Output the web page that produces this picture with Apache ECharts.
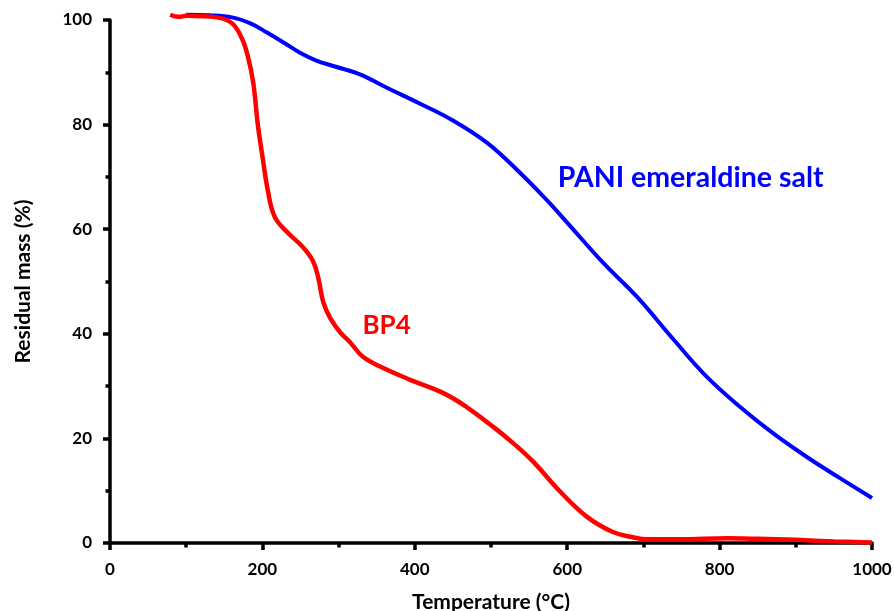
<!DOCTYPE html>
<html>
<head>
<meta charset="utf-8">
<script src="https://cdn.jsdelivr.net/npm/echarts@6/dist/echarts.min.js"></script>
<style>
    html, body { margin: 0; padding: 0; background: #fff; }
    #chart { width: 894px; height: 611px; }
</style>
</head>
<body>
<div id="chart"></div>
<script>
    // temperatures (°C) and residual mass (%)
    const paniTemp = [100, 130, 160, 185, 206, 230, 250, 270, 293, 328, 364, 407, 450, 495, 538, 573, 604, 647, 692, 739, 783, 827, 870, 915, 958, 1000]
    const paniMass = [101, 100.9, 100.5, 99.3, 97.6, 95.5, 93.7, 92.3, 91.2, 89.6, 87, 84, 80.8, 76.5, 70.8, 65.6, 60.6, 53.6, 47, 39, 31.8, 26, 21, 16.4, 12.4, 8.6]

    const bp4Temp = [79, 90, 100, 140, 160, 173, 181, 188, 194, 200, 207, 216, 232, 253, 266, 273, 280, 289, 302, 315, 332, 358, 394, 437, 468, 503, 529, 555, 591, 626, 660, 686, 705, 748, 810, 850, 900, 950, 1000]
    const bp4Mass = [101, 100.6, 100.8, 100.5, 99.4, 96.5, 93, 88, 80, 74, 67.5, 62.4, 59.5, 56.6, 54, 50.9, 46, 43, 40.3, 38.4, 35.6, 33.5, 31.2, 28.7, 26, 22.2, 19.1, 15.6, 9.8, 5.0, 2.1, 1.1, 0.7, 0.7, 0.9, 0.8, 0.6, 0.3, 0.1]

    const xTicks = { min: 0, max: 1000, step: 200 }
    const yTicks = { min: 0, max: 100, step: 20 }

    const font = 'Lato, "Open Sans", sans-serif'

    const zip = (xs, ys) => xs.map((x, i) => [x, ys[i]])

    const axisCommon = {
        axisLine: { show: true, onZero: false, lineStyle: { color: '#000', width: 3.5 } },
        axisTick: { show: true, length: 7, lineStyle: { color: '#000', width: 3.5 } },
        minorTick: { show: true, splitNumber: 2, length: 4.5, lineStyle: { color: '#000', width: 3.5 } },
        splitLine: { show: false },
        axisLabel: { color: '#000', fontFamily: font, fontWeight: 'bold', fontSize: 17, formatter: v => String(v) },
        nameTextStyle: { color: '#000', fontFamily: font, fontWeight: 'bold', fontSize: 21 },
        nameLocation: 'middle',
    }

    const chart = echarts.init(document.getElementById('chart'))
    chart.setOption({
        animation: false,
        grid: { left: 110, right: 22, top: 20, bottom: 68, outerBoundsMode: 'none', containLabel: false },
        xAxis: Object.assign({}, axisCommon, {
            type: 'value',
            min: xTicks.min,
            max: xTicks.max,
            interval: xTicks.step,
            name: 'Temperature (°C)',
            nameGap: 49,
            axisLabel: Object.assign({}, axisCommon.axisLabel, { margin: 18 }),
        }),
        yAxis: Object.assign({}, axisCommon, {
            type: 'value',
            min: yTicks.min,
            max: yTicks.max,
            interval: yTicks.step,
            name: 'Residual mass (%)',
            nameGap: 76,
            axisLabel: Object.assign({}, axisCommon.axisLabel, { margin: 18 }),
        }),
        series: [{
            name: 'PANI emeraldine salt',
            type: 'line',
            data: zip(paniTemp, paniMass),
            smooth: 0.4,
            showSymbol: false,
            clip: false,
            lineStyle: { color: '#0000ff', width: 4 },
            markPoint: {
                symbol: 'circle',
                symbolSize: 0,
                data: [{ coord: [762, 69.8] }],
                label: {
                    show: true,
                    position: 'inside',
                    formatter: 'PANI emeraldine salt',
                    color: '#0000ff',
                    fontFamily: font,
                    fontWeight: 'bold',
                    fontSize: 28.5,
                },
            },
        }, {
            name: 'BP4',
            type: 'line',
            data: zip(bp4Temp, bp4Mass),
            smooth: 0.4,
            showSymbol: false,
            clip: false,
            lineStyle: { color: '#ff0000', width: 4.5 },
            markPoint: {
                symbol: 'circle',
                symbolSize: 0,
                data: [{ coord: [363, 41.5] }],
                label: {
                    show: true,
                    position: 'inside',
                    formatter: 'BP4',
                    color: '#ff0000',
                    fontFamily: font,
                    fontWeight: 'bold',
                    fontSize: 26,
                },
            },
        }],
    })
</script>
</body>
</html>
